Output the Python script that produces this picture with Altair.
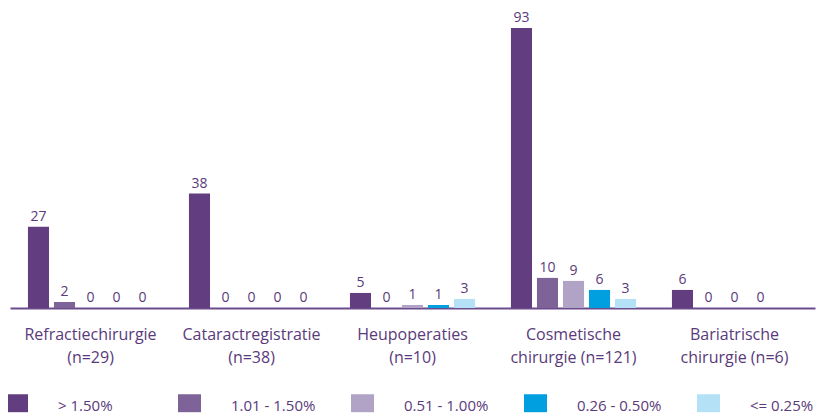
import altair as alt
import pandas as pd

categories = [
    "Refractiechirurgie|(n=29)",
    "Cataractregistratie|(n=38)",
    "Heupoperaties|(n=10)",
    "Cosmetische|chirurgie (n=121)",
    "Bariatrische|chirurgie (n=6)",
]
series = ["> 1.50%", "1.01 - 1.50%", "0.51 - 1.00%", "0.26 - 0.50%", "<= 0.25%"]
s1 = [27, 38, 5, 93, 6]
s2 = [2, 0, 0, 10, 0]
s3 = [0, 0, 1, 9, 0]
s4 = [0, 0, 1, 6, 0]
s5 = [0, 0, 3, 3, None]
colors = ["#623e80", "#7e6399", "#b0a3c6", "#009fe0", "#b5e1f6"]

rows = []
for name, vals in zip(series, [s1, s2, s3, s4, s5]):
    for c, v in zip(categories, vals):
        if v is None:
            continue
        rows.append({"cat": c, "series": name, "value": v})
df = pd.DataFrame(rows)

FONT = "Open Sans"
TXT = "#5a3a7b"

x = alt.X(
    "cat:N",
    sort=categories,
    scale=alt.Scale(paddingInner=0, paddingOuter=0),
    axis=alt.Axis(
        title=None,
        labelExpr="split(datum.label, '|')",
        labelAngle=0,
        ticks=False,
        domainColor="#6b4b8c",
        domainWidth=2,
        labelFont=FONT,
        labelFontSize=16,
        labelColor=TXT,
        labelPadding=18,
        labelLineHeight=23,
    ),
)
xo = alt.XOffset("series:N", sort=series, scale=alt.Scale(paddingInner=0.19, paddingOuter=0.69))
y = alt.Y("value:Q", scale=alt.Scale(domain=[0, 99]), axis=None)

bars = alt.Chart(df).mark_bar().encode(
    x=x,
    xOffset=xo,
    y=y,
    color=alt.Color(
        "series:N",
        sort=series,
        scale=alt.Scale(domain=series, range=colors),
        legend=alt.Legend(
            title=None,
            orient="none",
            legendX=-5,
            legendY=384,
            direction="horizontal",
            columns=5,
            gridAlign="all",
            symbolType="M-1,-1.0H1V0.56H-1Z",
            symbolSize=529,
            symbolStrokeWidth=0,
            symbolOpacity=1,
            labelOffset=30,
            columnPadding=35,
            labelFont=FONT,
            labelFontSize=15,
            labelColor=TXT,
            labelBaseline="middle",
            padding=0,
        ),
    ),
)

labels = alt.Chart(df).mark_text(
    baseline="bottom", dy=-3, font=FONT, fontSize=14, color=TXT
).encode(x=x, xOffset=xo, y=y, text=alt.Text("value:Q"))

chart = (
    alt.layer(bars, labels)
    .properties(
        width=805,
        height=298,
        autosize=alt.AutoSizeParams(type="none"),
        padding={"left": 2, "top": 2, "right": 12, "bottom": 109},
        background="white",
    )
    .configure_view(stroke=None)
)

chart.save("out.html", embed_options={"renderer": "svg", "actions": False})
